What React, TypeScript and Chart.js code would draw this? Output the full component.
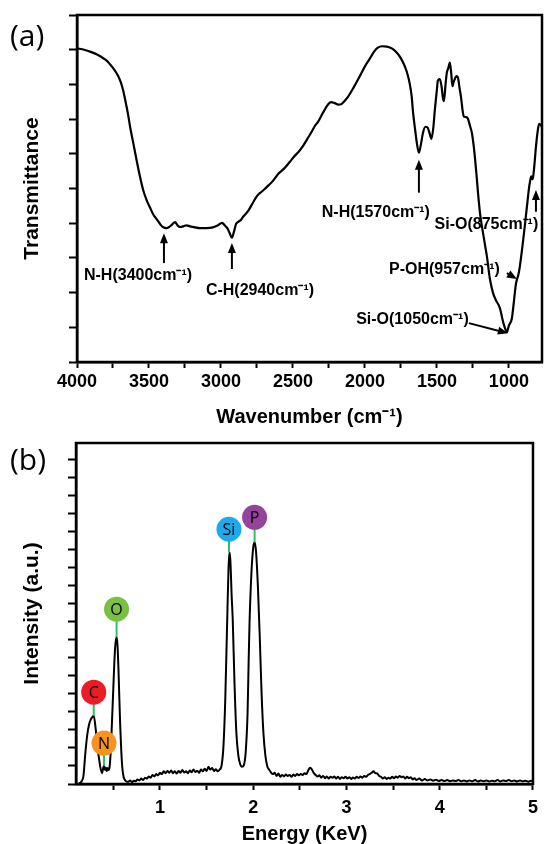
import React, { useEffect, useRef } from "react";
import { Chart, registerables } from "chart.js";

Chart.register(...registerables);

const FONT = '"Liberation Sans", Arial, sans-serif';

// ---------- (a) FTIR spectrum ----------
const wavenumber = [
  4000, 3950, 3900, 3861, 3820, 3790, 3771, 3745, 3715, 3695, 3681, 3665, 3646, 3630, 3611, 3590, 3563, 3540, 3515, 3493,
  3470, 3444, 3420, 3403, 3380, 3360, 3340, 3319, 3300, 3285, 3260, 3240, 3215, 3180, 3146, 3100, 3056, 3020, 2993, 2970,
  2955, 2940, 2924, 2910, 2895, 2880, 2860, 2847, 2810, 2778, 2750, 2720, 2700, 2670, 2639, 2600, 2560, 2521, 2490, 2460,
  2431, 2400, 2368, 2345, 2326, 2300, 2278, 2255, 2235, 2210, 2185, 2165, 2140, 2118, 2080, 2035, 2000, 1965, 1935, 1910,
  1880, 1847, 1810, 1778, 1750, 1722, 1700, 1688, 1675, 1667, 1650, 1639, 1625, 1612, 1597, 1580, 1565, 1550, 1538, 1525,
  1514, 1500, 1493, 1480, 1468, 1458, 1451, 1440, 1431, 1420, 1410, 1400, 1392, 1385, 1375, 1365, 1354, 1343, 1333, 1320,
  1312, 1300, 1285, 1270, 1257, 1245, 1236, 1225, 1215, 1201, 1181, 1165, 1153, 1132, 1111, 1090, 1063, 1040, 1020, 1014,
  1000, 979, 965, 951, 944, 935, 924, 903, 890, 875, 860, 854, 845, 835, 825, 812, 800, 790, 780, 771,
];
const transmittance = [
  90.4, 90.0, 89.3, 88.6, 87.6, 86.7, 85.8, 84.5, 82.5, 80.5, 78.5, 75.5, 71.5, 67.5, 63.5, 59.0, 53.5, 49.5, 46.5, 44.5,
  42.5, 41.0, 39.6, 38.9, 38.6, 38.9, 39.6, 40.3, 39.3, 38.9, 39.1, 39.4, 39.1, 38.8, 38.6, 38.6, 38.8, 39.4, 40.1, 39.2,
  38.5, 37.2, 35.8, 37.5, 39.8, 40.4, 41.0, 41.8, 43.6, 45.9, 47.8, 49.0, 49.7, 50.9, 52.2, 54.3, 55.8, 57.7, 59.3, 60.6,
  62.2, 64.3, 66.5, 68.2, 69.2, 71.2, 72.8, 74.3, 74.9, 74.6, 74.2, 74.3, 75.3, 76.4, 79.0, 82.4, 85.2, 87.5, 89.5, 90.6,
  91.0, 90.9, 90.3, 89.1, 87.5, 85.1, 82.3, 80.0, 76.5, 72.5, 66.5, 63.0, 60.3, 62.5, 66.0, 67.8, 67.6, 65.8, 64.3, 67.5,
  72.8, 78.5, 81.2, 81.5, 79.5, 76.0, 75.2, 80.0, 83.4, 84.8, 86.3, 83.0, 79.5, 80.5, 81.6, 82.4, 82.0, 79.0, 76.5, 72.0,
  70.7, 70.6, 70.2, 68.0, 66.0, 62.5, 59.0, 54.0, 49.0, 43.0, 37.5, 33.5, 30.5, 24.0, 20.0, 17.8, 15.6, 11.5, 9.0, 8.6,
  10.5, 12.6, 17.5, 22.5, 23.8, 25.0, 27.5, 34.3, 39.0, 44.7, 50.2, 51.8, 53.5, 52.6, 55.8, 62.0, 66.5, 68.6, 68.3, 67.8,
];
const ftirXTicks = [4000, 3750, 3500, 3250, 3000, 2750, 2500, 2250, 2000, 1750, 1500, 1250, 1000];
const ftirTickLabels = [4000, 3500, 3000, 2500, 2000, 1500, 1000];
const ftirYTicks = [0, 10, 20, 30, 40, 50, 60, 70, 80, 90, 100];

// annotations (data coordinates: wavenumber, transmittance)
const ftirAnnText = ["N-H(3400cm⁻¹)", "C-H(2940cm⁻¹)", "N-H(1570cm⁻¹)", "Si-O(875cm⁻¹)", "P-OH(957cm⁻¹)", "Si-O(1050cm⁻¹)"];
const ftirAnnTextX = [3576, 2729, 1924, 1156, 1448, 1670];
const ftirAnnTextY = [24.8, 20.7, 43.0, 39.5, 26.5, 12.1];
const ftirArrowFromX = [3396, 2924, 1625, 812, 1014, 1278];
const ftirArrowFromY = [28.5, 26.8, 48.8, 43.3, 25.6, 11.2];
const ftirArrowToX = [3396, 2924, 1625, 812, 944, 1007];
const ftirArrowToY = [37.1, 34.3, 58.3, 49.6, 23.9, 8.3];

// ---------- (b) EDS spectrum ----------
const energy = [
  0.13, 0.15, 0.16, 0.18, 0.2, 0.22, 0.24, 0.26, 0.28, 0.29, 0.31, 0.33, 0.35, 0.36, 0.38, 0.39, 0.4, 0.41, 0.42, 0.43,
  0.44, 0.45, 0.46, 0.47, 0.48, 0.49, 0.5, 0.51, 0.52, 0.535, 0.545, 0.555, 0.565, 0.575, 0.585, 0.595, 0.61, 0.63, 0.65,
  0.66, 0.68, 0.7, 0.72, 0.74, 0.76, 0.78, 0.8, 0.82, 0.84, 0.86, 0.88, 0.9, 0.92, 0.94, 0.96, 0.98, 1.0, 1.02, 1.04,
  1.06, 1.08, 1.1, 1.12, 1.14, 1.16, 1.18, 1.2, 1.22, 1.24, 1.26, 1.28, 1.3, 1.32, 1.34, 1.36, 1.38, 1.4, 1.42, 1.44,
  1.46, 1.48, 1.5, 1.52, 1.54, 1.56, 1.58, 1.6, 1.62, 1.64, 1.66, 1.68, 1.7, 1.72, 1.735, 1.745, 1.755, 1.77, 1.78, 1.8,
  1.82, 1.84, 1.86, 1.88, 1.9, 1.92, 1.94, 1.95, 1.96, 1.98, 2.0, 2.015, 2.03, 2.05, 2.07, 2.09, 2.11, 2.13, 2.15, 2.17,
  2.19, 2.21, 2.23, 2.25, 2.27, 2.29, 2.31, 2.33, 2.35, 2.37, 2.39, 2.41, 2.43, 2.45, 2.47, 2.49, 2.51, 2.53, 2.55, 2.57,
  2.59, 2.61, 2.63, 2.65, 2.67, 2.69, 2.71, 2.73, 2.75, 2.77, 2.79, 2.81, 2.83, 2.85, 2.87, 2.89, 2.91, 2.93, 2.95, 2.97,
  2.99, 3.01, 3.03, 3.05, 3.07, 3.09, 3.11, 3.13, 3.15, 3.17, 3.19, 3.21, 3.23, 3.25, 3.27, 3.29, 3.31, 3.33, 3.35, 3.37,
  3.39, 3.41, 3.43, 3.45, 3.47, 3.49, 3.51, 3.53, 3.55, 3.57, 3.59, 3.61, 3.63, 3.65, 3.67, 3.69, 3.71, 3.73, 3.75, 3.78,
  3.81, 3.84, 3.87, 3.9, 3.93, 3.96, 3.99, 4.02, 4.05, 4.08, 4.11, 4.14, 4.17, 4.2, 4.23, 4.26, 4.29, 4.32, 4.35, 4.38,
  4.41, 4.44, 4.47, 4.5, 4.53, 4.56, 4.59, 4.62, 4.65, 4.68, 4.71, 4.74, 4.77, 4.8, 4.83, 4.86, 4.89, 4.92, 4.95, 4.98, 5.0,
];
const intensity = [
  0.05, 0.08, 0.15, 0.45, 1.7, 2.7, 3.3, 3.6, 3.75, 3.78, 3.1, 2.05, 1.3, 0.95, 0.6, 0.85, 1.0, 0.78, 0.92, 0.72,
  0.88, 0.78, 0.95, 1.6, 2.7, 4.0, 5.3, 6.6, 7.6, 8.15, 7.7, 6.4, 4.7, 3.1, 1.9, 1.0, 0.4, 0.18, 0.12,
  0.12, 0.2, 0.1, 0.18, 0.15, 0.25, 0.2, 0.3, 0.22, 0.35, 0.3, 0.42, 0.35, 0.5, 0.42, 0.55, 0.48, 0.62, 0.55, 0.7,
  0.6, 0.72, 0.62, 0.75, 0.6, 0.7, 0.58, 0.72, 0.62, 0.78, 0.64, 0.7, 0.6, 0.75, 0.65, 0.8, 0.66, 0.74, 0.62, 0.8,
  0.7, 0.85, 0.72, 0.95, 0.8, 0.88, 0.72, 0.82, 0.7, 0.8, 1.0, 2.0, 4.6, 8.8, 11.9, 12.85, 12.4, 10.3, 9.2, 5.5,
  2.8, 1.6, 1.1, 0.95, 1.05, 1.8, 4.0, 6.5, 8.8, 11.6, 13.1, 13.4, 12.9, 11.0, 8.2, 5.0, 2.8, 1.6, 1.0, 0.8,
  0.65, 0.55, 0.62, 0.45, 0.58, 0.4, 0.5, 0.42, 0.52, 0.45, 0.5, 0.4, 0.52, 0.45, 0.55, 0.48, 0.56, 0.5, 0.6, 0.55,
  0.75, 0.9, 0.8, 0.6, 0.5, 0.42, 0.48, 0.35, 0.45, 0.32, 0.42, 0.3, 0.4, 0.35, 0.42, 0.3, 0.4, 0.28, 0.38, 0.32,
  0.4, 0.3, 0.38, 0.28, 0.36, 0.3, 0.4, 0.33, 0.42, 0.35, 0.45, 0.4, 0.5, 0.55, 0.62, 0.7, 0.6, 0.58, 0.45, 0.4,
  0.3, 0.38, 0.28, 0.35, 0.3, 0.4, 0.32, 0.42, 0.35, 0.45, 0.38, 0.42, 0.3, 0.4, 0.32, 0.38, 0.25, 0.32, 0.22, 0.3,
  0.2, 0.28, 0.2, 0.25, 0.18, 0.24, 0.17, 0.22, 0.16, 0.22, 0.15, 0.2, 0.16, 0.22, 0.15, 0.2, 0.14, 0.2, 0.15, 0.22,
  0.14, 0.19, 0.15, 0.2, 0.14, 0.18, 0.15, 0.22, 0.14, 0.2, 0.16, 0.22, 0.15, 0.19, 0.14, 0.2, 0.15, 0.18, 0.13, 0.18, 0.15,
];
const edsXTicks = [0.5, 1, 1.5, 2, 2.5, 3, 3.5, 4, 4.5, 5];
const edsTickLabels = [1, 2, 3, 4, 5];
const edsYTicks = [0, 1, 2, 3, 4, 5, 6, 7, 8, 9, 10, 11, 12, 13, 14, 15, 16, 17, 18];

const edsElements = ["C", "N", "O", "Si", "P"];
const edsElementEnergy = [0.29, 0.4, 0.535, 1.74, 2.015];
const edsElementPeak = [3.78, 1.05, 8.15, 12.85, 13.4];
const edsElementLabelY = [5.09, 2.27, 9.69, 14.12, 14.78];
const edsElementColor = ["#ec1c24", "#f7931e", "#7ac143", "#1eaaea", "#93449b"];

const boxPlugin = {
  id: "boxPlugin",
  afterDraw(chart: any) {
    const { ctx, chartArea } = chart;
    const { left, right, top, bottom } = chartArea;
    ctx.save();
    ctx.strokeStyle = "#000";
    ctx.lineWidth = 2.5;
    ctx.strokeRect(left, top, right - left, bottom - top);
    ctx.restore();
  },
};

function drawArrow(ctx: CanvasRenderingContext2D, x1: number, y1: number, x2: number, y2: number) {
  const ang = Math.atan2(y2 - y1, x2 - x1);
  const hl = 10;
  const hw = 4;
  const c = Math.cos(ang);
  const s = Math.sin(ang);
  ctx.beginPath();
  ctx.moveTo(x1, y1);
  ctx.lineTo(x2 - c * hl * 0.7, y2 - s * hl * 0.7);
  ctx.stroke();
  ctx.beginPath();
  ctx.moveTo(x2, y2);
  ctx.lineTo(x2 - hl * c + hw * s, y2 - hl * s - hw * c);
  ctx.lineTo(x2 - hl * c - hw * s, y2 - hl * s + hw * c);
  ctx.closePath();
  ctx.fill();
}

const ftirAnnPlugin = {
  id: "ftirAnn",
  afterDatasetsDraw(chart: any) {
    const { ctx, scales } = chart;
    const x = scales.x;
    const y = scales.y;
    ctx.save();
    ctx.fillStyle = "#000";
    ctx.strokeStyle = "#000";
    ctx.lineWidth = 2;
    ctx.font = `bold 16px ${FONT}`;
    ctx.textAlign = "center";
    ctx.textBaseline = "middle";
    ftirAnnText.forEach((t, i) => {
      ctx.fillText(t, x.getPixelForValue(ftirAnnTextX[i]), y.getPixelForValue(ftirAnnTextY[i]));
      drawArrow(
        ctx,
        x.getPixelForValue(ftirArrowFromX[i]),
        y.getPixelForValue(ftirArrowFromY[i]),
        x.getPixelForValue(ftirArrowToX[i]),
        y.getPixelForValue(ftirArrowToY[i])
      );
    });
    ctx.restore();
  },
};

const edsAnnPlugin = {
  id: "edsAnn",
  afterDatasetsDraw(chart: any) {
    const { ctx, scales } = chart;
    const x = scales.x;
    const y = scales.y;
    ctx.save();
    edsElements.forEach((el, i) => {
      const px = x.getPixelForValue(edsElementEnergy[i]);
      const pyPeak = y.getPixelForValue(edsElementPeak[i]);
      const pyC = y.getPixelForValue(edsElementLabelY[i]);
      ctx.strokeStyle = "#2dbf6c";
      ctx.lineWidth = 2;
      ctx.beginPath();
      ctx.moveTo(px, pyPeak);
      ctx.lineTo(px, pyC);
      ctx.stroke();
      ctx.fillStyle = edsElementColor[i];
      ctx.beginPath();
      ctx.arc(px, pyC, 12.5, 0, Math.PI * 2);
      ctx.fill();
      ctx.fillStyle = "#000";
      ctx.font = `16px "Open Sans", "Noto Sans", sans-serif`;
      ctx.textAlign = "center";
      ctx.textBaseline = "middle";
      ctx.fillText(el, px, pyC + 1);
    });
    ctx.restore();
  },
};

const tickFont = { family: FONT, size: 18, weight: "bold" as const };
const titleFontX = { family: FONT, size: 20, weight: "bold" as const, lineHeight: 1 };
const titleFontY = { family: FONT, size: 21, weight: "bold" as const, lineHeight: 1 };

const setTicks = (values: number[]) => (scale: any) => {
  scale.ticks = values.map((v) => ({ value: v }));
};

export default function App() {
  const refA = useRef<HTMLCanvasElement>(null);
  const refB = useRef<HTMLCanvasElement>(null);

  useEffect(() => {
    const chartA = new Chart(refA.current as HTMLCanvasElement, {
      type: "line",
      data: {
        datasets: [
          {
            data: wavenumber.map((w, i) => ({ x: w, y: transmittance[i] })),
            borderColor: "#000",
            borderWidth: 2.2,
            pointRadius: 0,
            cubicInterpolationMode: "monotone",
            fill: false,
          },
        ],
      },
      options: {
        responsive: false,
        animation: false,
        layout: { padding: { top: 15, right: 3, left: 0, bottom: 0 } },
        plugins: { legend: { display: false }, tooltip: { enabled: false } },
        scales: {
          x: {
            type: "linear",
            reverse: true,
            min: 770,
            max: 4000,
            afterBuildTicks: setTicks(ftirXTicks),
            afterFit: (s: any) => {
              s.height = 68;
            },
            border: { color: "#000", width: 2.5 },
            grid: { drawOnChartArea: false, color: "#000", tickLength: 6, tickWidth: 2 },
            ticks: {
              autoSkip: false,
              maxRotation: 0,
              padding: 3,
              color: "#000",
              font: tickFont,
              callback: (v: any) => (ftirTickLabels.includes(Number(v)) ? String(v) : ""),
            },
            title: {
              display: true,
              text: "Wavenumber (cm⁻¹)",
              color: "#000",
              font: titleFontX,
              padding: { top: 0, bottom: 3 },
            },
          },
          y: {
            min: 0,
            max: 100,
            afterBuildTicks: setTicks(ftirYTicks),
            afterFit: (s: any) => {
              s.width = 77;
            },
            border: { color: "#000", width: 2.5 },
            grid: { drawOnChartArea: false, color: "#000", tickLength: 8, tickWidth: 2 },
            ticks: {
              autoSkip: false,
              callback: () => "",
            },
            title: {
              display: true,
              text: "Transmittance",
              color: "#000",
              font: titleFontY,
              padding: { top: 22, bottom: 0 },
            },
          },
        },
      },
      plugins: [boxPlugin, ftirAnnPlugin],
    } as any);

    const chartB = new Chart(refB.current as HTMLCanvasElement, {
      type: "line",
      data: {
        datasets: [
          {
            data: energy.map((e, i) => ({ x: e, y: intensity[i] })),
            borderColor: "#000",
            borderWidth: 2,
            pointRadius: 0,
            cubicInterpolationMode: "monotone",
            fill: false,
          },
        ],
      },
      options: {
        responsive: false,
        animation: false,
        layout: { padding: { top: 13, right: 4, left: 0, bottom: 0 } },
        plugins: { legend: { display: false }, tooltip: { enabled: false } },
        scales: {
          x: {
            type: "linear",
            min: 0.1,
            max: 5,
            afterBuildTicks: setTicks(edsXTicks),
            afterFit: (s: any) => {
              s.height = 60;
            },
            border: { color: "#000", width: 2.5 },
            grid: { drawOnChartArea: false, color: "#000", tickLength: 6, tickWidth: 2 },
            ticks: {
              autoSkip: false,
              maxRotation: 0,
              padding: 7,
              color: "#000",
              font: tickFont,
              callback: (v: any) => (edsTickLabels.includes(Number(v)) ? String(v) : ""),
            },
            title: {
              display: true,
              text: "Energy (KeV)",
              color: "#000",
              font: titleFontX,
              padding: { top: 0, bottom: 0 },
            },
          },
          y: {
            min: 0,
            max: 18.9,
            afterBuildTicks: setTicks(edsYTicks),
            afterFit: (s: any) => {
              s.width = 76;
            },
            border: { color: "#000", width: 2.5 },
            grid: { drawOnChartArea: false, color: "#000", tickLength: 8, tickWidth: 2 },
            ticks: {
              autoSkip: false,
              callback: () => "",
            },
            title: {
              display: true,
              text: "Intensity (a.u.)",
              color: "#000",
              font: titleFontY,
              padding: { top: 22, bottom: 0 },
            },
          },
        },
      },
      plugins: [boxPlugin, edsAnnPlugin],
    } as any);

    return () => {
      chartA.destroy();
      chartB.destroy();
    };
  }, []);

  const panelLabel: React.CSSProperties = {
    position: "absolute",
    left: 10,
    fontFamily: '"Open Sans", "Noto Sans", sans-serif',
    fontSize: 30,
    lineHeight: "30px",
    color: "#000",
  };

  return (
    <div style={{ position: "fixed", left: 0, top: 0, width: 545, height: 844, background: "#fff" }}>
      <canvas ref={refA} width={545} height={430} style={{ position: "absolute", left: 0, top: 0 }} />
      <canvas ref={refB} width={545} height={414} style={{ position: "absolute", left: 0, top: 430 }} />
      <div style={{ ...panelLabel, top: 20 }}>(a)</div>
      <div style={{ ...panelLabel, top: 444 }}>(b)</div>
    </div>
  );
}
